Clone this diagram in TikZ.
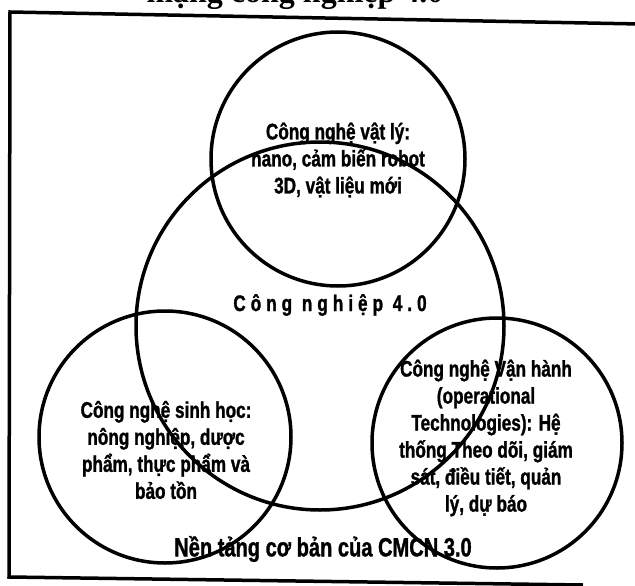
\documentclass[tikz,border=0pt]{standalone}
\usepackage{fontspec}
\newfontfamily\narrowfont[FakeStretch=0.76,BoldFeatures={FakeBold=1.2}]{Liberation Sans}
\newfontfamily\spacedfont[FakeStretch=0.76,LetterSpace=22,BoldFeatures={FakeBold=1.2}]{Liberation Sans}
\newfontfamily\titlefont{Liberation Serif}

\tikzset{
  venntext/.style={font=\narrowfont\bfseries\fontsize{22.6}{27}\selectfont, align=center, inner sep=0pt},
}

\begin{document}
\begin{tikzpicture}[x=1pt, y=-1pt, line width=3.5pt]
    % Page
    \useasboundingbox (0,0) rectangle (635,586);
    \clip (0,0) rectangle (635,586);

    % Coordinates
    \coordinate (T) at (338,159);
    \coordinate (M) at (320,326);
    \coordinate (L) at (165,437);
    \coordinate (R) at (497,443);
    \coordinate (F1) at (640,24);
    \coordinate (F2) at (10,12);
    \coordinate (F3) at (9,577);
    \coordinate (F4) at (583,585);

    % Draw frame
    \draw (F1) -- (F2) -- (F3) -- (F4);

    % Draw circles
    \draw (T) circle[radius=127pt];
    \draw (M) circle[radius=184pt];
    \draw (L) circle[radius=126pt];
    \draw (R) circle[radius=125pt];

    % Title, cut off at the top
    \node[font=\titlefont\bfseries\fontsize{32}{36}\selectfont, anchor=base] (title) at (295,3) {mạng công nghiệp 4.0};

    % Circle labels
    \node[venntext] (phys) at (338,160) {Công nghệ vật lý:\\nano, cảm biến robot\\3D, vật liệu mới};
    \node[font=\spacedfont\bfseries\fontsize{22.6}{27}\selectfont, inner sep=0pt] (core) at (330,305) {Công nghiệp 4.0};
    \node[venntext] (bio) at (166,450) {Công nghệ sinh học:\\nông nghiệp, dược\\phẩm, thực phẩm và\\bảo tồn};
    \node[venntext] (ops) at (486,438) {Công nghệ Vận hành\\(operational\\Technologies): Hệ\\thống Theo dõi, giám\\sát, điều tiết, quản\\lý, dự báo};
    \node[venntext, font=\narrowfont\bfseries\fontsize{26.4}{30}\selectfont] (base) at (323,549) {Nền tảng cơ bản của CMCN 3.0};
\end{tikzpicture}
\end{document}
